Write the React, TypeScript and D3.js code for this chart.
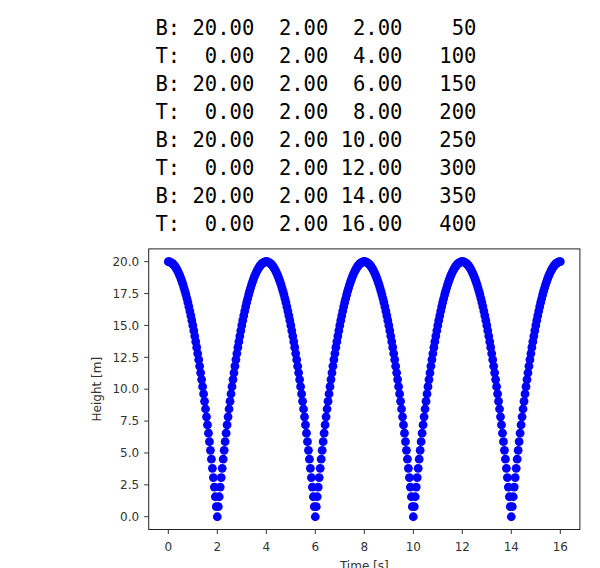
import React from "react";
import * as d3 from "d3";

// Event log printed above the chart (B = bottom, T = top)
const eventLabels = ["B", "T", "B", "T", "B", "T", "B", "T"];
const eventSpeed = [20, 0, 20, 0, 20, 0, 20, 0];
const eventDuration = [2, 2, 2, 2, 2, 2, 2, 2];
const eventTime = [2, 4, 6, 8, 10, 12, 14, 16];
const eventStep = [50, 100, 150, 200, 250, 300, 350, 400];

// Heights [m] of one fall from the top (step 0) to the bottom (step 50)
const fallHeights = [
  20, 19.992, 19.968, 19.928, 19.872, 19.8, 19.712, 19.608, 19.488, 19.352,
  19.2, 19.032, 18.848, 18.648, 18.432, 18.2, 17.952, 17.688, 17.408, 17.112,
  16.8, 16.472, 16.128, 15.768, 15.392, 15.0, 14.592, 14.168, 13.728, 13.272,
  12.8, 12.312, 11.808, 11.288, 10.752, 10.2, 9.632, 9.048, 8.448, 7.832,
  7.2, 6.552, 5.888, 5.208, 4.512, 3.8, 3.072, 2.328, 1.568, 0.792, 0,
];

const xTicks = [0, 2, 4, 6, 8, 10, 12, 14, 16];
const yTicks = [0, 2.5, 5, 7.5, 10, 12.5, 15, 17.5, 20];

type Pt = { t: number; h: number };

function buildSeries(): Pt[] {
  const pts: Pt[] = [{ t: 0, h: fallHeights[0] }];
  let prevStep = 0;
  let prevTime = 0;
  eventLabels.forEach((lab, i) => {
    const n = eventStep[i] - prevStep;
    const dt = (eventTime[i] - prevTime) / n;
    for (let k = 1; k <= n; k++) {
      const h = lab === "B" ? fallHeights[k] : fallHeights[n - k];
      pts.push({ t: prevTime + k * dt, h });
    }
    prevStep = eventStep[i];
    prevTime = eventTime[i];
  });
  return pts;
}

const f2 = (v: number) => v.toFixed(2).padStart(5);

export default function App() {
  const W = 600;
  const H = 568;
  const L = 148.7, R = 579.9, T = 248.9, B = 529.5;
  const x = d3.scaleLinear().domain([-0.8, 16.8]).range([L, R]);
  const y = d3.scaleLinear().domain([-1, 21]).range([B, T]);
  const pts = buildSeries();
  const lines = eventLabels.map(
    (lab, i) =>
      `${lab}: ${f2(eventSpeed[i])} ${f2(eventDuration[i])} ${f2(eventTime[i])} ${String(eventStep[i]).padStart(5)}`
  );
  const tickLen = 4.5;
  const tickColor = "#333";
  const font = "DejaVu Sans, sans-serif";
  return (
    <svg
      width={W}
      height={H}
      style={{ position: "absolute", left: 0, top: 0, background: "#fff" }}
    >
      <g fontFamily="DejaVu Sans Mono, monospace" fontSize={20.5} fill="#000">
        {lines.map((s, i) => (
          <text key={i} x={155.5} y={35 + i * 28} style={{ whiteSpace: "pre" }}>
            {s}
          </text>
        ))}
      </g>
      <g>
        {pts.map((p, i) => (
          <circle key={i} cx={x(p.t)} cy={y(p.h)} r={4.4} fill="#0000ff" />
        ))}
      </g>
      <rect
        x={L}
        y={T}
        width={R - L}
        height={B - T}
        fill="none"
        stroke="#222"
        strokeWidth={1}
      />
      <g fontFamily={font} fontSize={12} fill="#333">
        {xTicks.map((v) => (
          <g key={"x" + v}>
            <line x1={x(v)} x2={x(v)} y1={B} y2={B + tickLen} stroke={tickColor} />
            <text x={x(v)} y={551} textAnchor="middle">
              {String(v)}
            </text>
          </g>
        ))}
        {yTicks.map((v) => (
          <g key={"y" + v}>
            <line x1={L - tickLen} x2={L} y1={y(v)} y2={y(v)} stroke={tickColor} />
            <text x={L - 9.5} y={y(v)} dy="0.35em" textAnchor="end">
              {v.toFixed(1)}
            </text>
          </g>
        ))}
        <text x={(L + R) / 2} y={570} textAnchor="middle">
          Time [s]
        </text>
        <text
          transform={`translate(100.5, ${(T + B) / 2}) rotate(-90)`}
          textAnchor="middle"
        >
          Height [m]
        </text>
      </g>
    </svg>
  );
}
